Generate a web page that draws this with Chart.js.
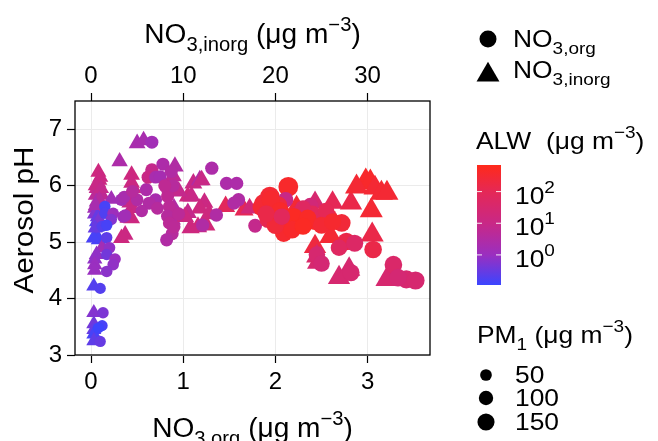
<!DOCTYPE html>
<html>
<head>
<meta charset="utf-8">
<script src="https://cdn.jsdelivr.net/npm/chart.js@4.4.0/dist/chart.umd.min.js"></script>
<style>
  html, body { margin: 0; padding: 0; background: #fff; }
  canvas { display: block; }
</style>
</head>
<body>
<canvas id="chart" width="658" height="441" style="width:658px;height:441px"></canvas>
<script>
// NO3,org points (bottom axis)
const orgX   = [0.15,0.15,0.24,0.22,0.12,0.17,0.17,0.20,0.17,0.26,0.24,0.17,0.10,0.13,0.12,0.08,0.10,
                0.33,0.36,0.35,0.37,0.60,0.70,0.63,0.66,0.62,0.78,0.70,0.66,0.75,0.83,0.83,0.85,0.83,0.85,0.89,0.87,0.88,0.82,0.90,
                0.50,0.45,0.80,0.72,0.95,0.55,
                1.31,1.47,1.58,1.60,1.55,1.36,1.21,1.78,
                2.14,1.94,1.87,2.11,1.98,2.03,2.09,2.15,2.23,2.43,2.58,2.72,2.77,2.69,2.86,3.06,2.45,2.50,2.82,3.28,3.42,3.52,3.33,2.38,2.25,2.40,2.00,1.92,2.30,2.55,
                1.85,1.95,2.05,2.20,2.35,2.50,2.62,2.00,2.18,2.30,1.90,2.07];
const orgPH  = [5.63,5.51,5.51,5.40,5.28,5.30,5.08,4.90,4.78,4.70,4.60,4.48,4.18,3.75,3.52,3.48,3.24,
                5.75,5.80,5.45,5.47,5.93,5.75,5.69,6.28,6.15,6.38,6.15,6.77,6.16,5.93,5.81,5.63,5.46,5.34,6.00,6.25,5.15,5.04,5.27,
                5.75,5.90,6.00,5.60,5.50,5.55,
                6.31,6.04,6.04,5.75,5.69,5.48,5.30,5.29,
                5.98,5.81,5.69,5.75,5.57,5.65,5.16,5.34,5.32,5.37,5.44,5.34,5.01,4.90,4.98,4.87,4.78,4.62,4.46,4.60,4.34,4.32,4.37,5.65,5.50,5.50,5.45,5.40,5.60,5.55,
                5.62,5.75,5.55,5.45,5.42,5.30,5.36,5.30,5.22,5.28,5.50,5.45];
const orgALW = [0.15,0.18,1.2,0.6,0.2,0.15,0.25,0.8,0.4,1.0,0.8,0.7,0.2,0.5,0.15,0.12,0.3,
                1.5,2,1.2,1.5,2.5,2,3,8,10,2.5,2,1.5,1.8,5,6,5,4,5,4,3,4,3,5,
                3,4,6,4,5,3,
                2.5,2.5,2.5,3,3,3,3,8,
                400,300,250,10,300,200,350,300,500,400,200,250,150,60,50,150,30,25,30,40,30,30,25,20,150,80,200,120,60,100,
                300,350,400,500,450,300,350,250,400,500,150,80];
const orgPM  = [45,45,50,45,40,45,45,50,45,50,48,48,40,45,40,38,40,
                65,65,60,65,75,75,75,80,80,75,70,75,70,75,75,75,75,75,75,75,75,75,75,
                70,70,75,70,75,65,
                80,80,80,80,80,80,80,90,
                200,190,170,120,180,170,160,170,170,160,150,160,160,140,150,160,140,140,150,160,170,170,160,120,150,140,160,150,130,140,
                170,180,170,160,160,150,150,160,160,150,150,140];

// NO3,inorg points (top axis)
const inorgX   = [0.8,1.0,0.8,0.6,0.5,1.2,0.6,0.4,0.4,0.6,0.7,0.6,0.8,0.25,1.2,0.6,0.4,0.4,0.4,0.3,0.3,0.3,0.3,0.3,0.3,
                  0.9,0.5,1.1,0.9,0.5,0.9,0.45,
                  2.2,3.1,3.3,3.7,4.4,4.4,4.4,4.4,4.4,5.0,5.7,4.0,4.6,4.2,
                  9.1,8.9,9.0,8.8,11.1,11.8,12.0,10.5,10.9,12.3,11.8,10.5,11.6,12.5,10.8,14.6,16.6,17.2,9.5,10.2,12.8,
                  22.3,24.3,26.2,28.2,29.8,30.3,28.8,30.8,31.5,32.1,30.4,30.5,26.0,24.3,24.6,24.5,26.9,28.0,32.1,25.0];
const inorgPH  = [6.24,6.15,6.05,5.95,5.83,5.83,5.71,5.60,5.50,5.36,5.45,5.12,5.04,5.07,4.90,4.78,4.70,4.60,4.50,4.22,3.75,3.55,3.45,3.37,3.25,
                  6.10,6.00,5.95,5.75,5.65,5.40,5.25,
                  5.76,6.43,5.07,5.13,6.19,6.05,5.81,5.60,5.42,6.75,6.80,5.43,5.95,5.70,
                  6.34,6.17,5.60,5.40,6.04,6.10,6.10,5.81,5.81,5.70,5.60,5.52,5.27,5.30,5.25,5.63,5.57,5.60,5.90,5.45,5.50,
                  5.62,5.70,5.70,5.69,6.08,6.06,5.98,5.96,5.87,5.87,5.56,5.13,5.10,4.92,4.64,4.75,4.37,4.52,4.34,5.40];
const inorgALW = [15,12,10,8,5,6,2,1.5,0.6,0.2,0.3,0.2,0.15,0.15,1.5,0.8,0.8,1.0,1.0,0.2,0.6,0.4,0.3,0.15,0.25,
                  12,10,8,4,2,0.5,0.3,
                  1.5,2.5,15,12,15,12,12,10,15,2,2,12,12,10,
                  3,6,3,3,10,3,10,15,10,12,15,8,20,20,15,80,100,20,8,12,15,
                  300,30,100,150,400,400,300,300,300,300,300,150,300,200,30,40,30,30,30,200];
const inorgPM  = [55,55,52,52,50,50,50,48,48,45,45,45,45,42,48,48,45,45,45,42,42,42,40,40,40,
                  55,52,50,50,48,45,42,
                  55,60,65,65,65,65,65,65,65,65,65,65,65,65,
                  75,75,75,75,80,80,80,80,80,80,80,80,85,85,85,95,95,85,80,80,85,
                  130,120,130,140,160,160,150,150,150,150,150,150,150,140,130,130,140,140,150,140];

const bottomTicks = [0, 1, 2, 3];
const topTicks = [0, 10, 20, 30];
const yTicks = [3, 4, 5, 6, 7];
const alwLogTicks = [0, 1, 2];
const pmBreaks = [50, 100, 150];

const FONT = '"Liberation Sans", Arial, Helvetica, sans-serif';
const ALW_LOG_MIN = -0.95, ALW_LOG_MAX = 2.84;
const colorStops = [
  [0.00, [59, 69, 255]],
  [0.25, [154, 47, 192]],
  [0.51, [200, 40, 135]],
  [0.77, [228, 40, 88]],
  [1.00, [255, 42, 26]]
];

function rampColor(t) {
  t = Math.max(0, Math.min(1, t));
  for (let i = 1; i < colorStops.length; i++) {
    if (t <= colorStops[i][0]) {
      const a = colorStops[i - 1], b = colorStops[i];
      const f = (t - a[0]) / (b[0] - a[0]);
      const c = a[1].map((v, k) => Math.round(v + (b[1][k] - v) * f));
      return "rgb(" + c.join(",") + ")";
    }
  }
  return "rgb(255,42,26)";
}
function alwColor(v) {
  return rampColor((Math.log10(v) - ALW_LOG_MIN) / (ALW_LOG_MAX - ALW_LOG_MIN));
}
function pmRadius(pm) {
  return 4.5 + 0.027 * pm;
}
const TRI = 1.555; // R-style triangle is bigger than the circle of same size

// rich text: parts = [[text, ''|'sub'|'sup'], ...]
function richWidth(ctx, parts, size) {
  let w = 0;
  parts.forEach(p => {
    ctx.font = (p[1] ? size * 0.72 : size) + "px " + FONT;
    w += ctx.measureText(p[0]).width;
  });
  return w;
}
function drawRich(ctx, parts, x, y, size, align, sx, rot) {
  ctx.save();
  ctx.translate(x, y);
  if (rot) ctx.rotate(rot);
  ctx.scale(sx || 1, 1);
  const w = richWidth(ctx, parts, size);
  let cx = align === "center" ? -w / 2 : 0;
  ctx.textAlign = "left";
  ctx.textBaseline = "alphabetic";
  ctx.fillStyle = "#000";
  parts.forEach(p => {
    const s = p[1] ? size * 0.72 : size;
    const dy = p[1] === "sub" ? size * 0.3 : (p[1] === "sup" ? -size * 0.45 : 0);
    ctx.font = s + "px " + FONT;
    ctx.fillText(p[0], cx, dy);
    cx += ctx.measureText(p[0]).width;
  });
  ctx.restore();
}
function triangle(ctx, x, y, r) {
  const side = 3 * r / Math.sqrt(3);
  const h = side * Math.sqrt(3) / 2;
  ctx.beginPath();
  ctx.moveTo(x - side / 2, y + h / 3);
  ctx.lineTo(x, y - 2 * h / 3);
  ctx.lineTo(x + side / 2, y + h / 3);
  ctx.closePath();
  ctx.fill();
}

const extras = {
  id: "extras",
  afterDraw(chart) {
    const ctx = chart.ctx;
    const a = chart.chartArea;
    ctx.save();
    // panel border
    ctx.strokeStyle = "#000";
    ctx.lineWidth = 1.3;
    ctx.strokeRect(a.left, a.top, a.right - a.left, a.bottom - a.top);

    // axis titles
    const unit = [[" (\u03bcg m", ""], ["\u22123", "sup"], [")", ""]];
    drawRich(ctx, [["NO", ""], ["3,inorg", "sub"]].concat(unit), (a.left + a.right) / 2, 43, 27, "center", 1.04);
    drawRich(ctx, [["NO", ""], ["3,org", "sub"]].concat(unit), (a.left + a.right) / 2, 437, 27, "center", 1.04);
    drawRich(ctx, [["Aerosol pH", ""]], 33, 220, 27, "center", 1.1, -Math.PI / 2);

    // shape legend
    ctx.fillStyle = "#000";
    ctx.beginPath();
    ctx.arc(488, 39, 8.5, 0, Math.PI * 2);
    ctx.fill();
    triangle(ctx, 488, 75, 8.5 * TRI);
    drawRich(ctx, [["NO", ""], ["3,org", "sub"]], 513, 47, 24, "left", 1.1);
    drawRich(ctx, [["NO", ""], ["3,inorg", "sub"]], 513, 78, 24, "left", 1.1);

    // ALW colour bar
    drawRich(ctx, [["ALW  (\u03bcg m", ""], ["\u22123", "sup"], [")", ""]], 476, 149, 24, "left", 1.1);
    const bx = 477, bw = 24, top = 165, bot = 285;
    const g = ctx.createLinearGradient(0, bot, 0, top);
    colorStops.forEach(s => g.addColorStop(s[0], "rgb(" + s[1].join(",") + ")"));
    ctx.fillStyle = g;
    ctx.fillRect(bx, top, bw, bot - top);
    ctx.strokeStyle = "rgba(255,255,255,0.9)";
    ctx.lineWidth = 1;
    alwLogTicks.forEach(lv => {
      const yy = bot - (lv - ALW_LOG_MIN) / (ALW_LOG_MAX - ALW_LOG_MIN) * (bot - top);
      ctx.beginPath();
      ctx.moveTo(bx, yy); ctx.lineTo(bx + 5, yy);
      ctx.moveTo(bx + bw - 5, yy); ctx.lineTo(bx + bw, yy);
      ctx.stroke();
      drawRich(ctx, [["10", ""], [String(lv), "sup"]], 515, yy + 12, 24, "left", 1.1);
    });

    // PM1 size legend
    drawRich(ctx, [["PM", ""], ["1", "sub"], [" (\u03bcg m", ""], ["\u22123", "sup"], [")", ""]], 477, 343, 24, "left", 1.1);
    const pmY = [375, 398, 422];
    pmBreaks.forEach((pm, i) => {
      ctx.fillStyle = "#000";
      ctx.beginPath();
      ctx.arc(486, pmY[i], pmRadius(pm), 0, Math.PI * 2);
      ctx.fill();
      drawRich(ctx, [[String(pm), ""]], 515, pmY[i] + 8, 24, "left", 1.1);
    });
    ctx.restore();
  }
};

const tickFont = { family: FONT, size: 24 };

new Chart(document.getElementById("chart"), {
  type: "scatter",
  data: {
    datasets: [
      {
        label: "NO3,org",
        xAxisID: "x",
        data: orgX.map((v, i) => ({ x: v, y: orgPH[i] })),
        pointStyle: "circle",
        pointRadius: orgPM.map(pmRadius),
        backgroundColor: orgALW.map(alwColor),
        borderWidth: 0
      },
      {
        label: "NO3,inorg",
        xAxisID: "x2",
        data: inorgX.map((v, i) => ({ x: v, y: inorgPH[i] })),
        pointStyle: "triangle",
        pointRadius: inorgPM.map(p => pmRadius(p) * TRI),
        backgroundColor: inorgALW.map(alwColor),
        borderWidth: 0
      }
    ]
  },
  options: {
    responsive: false,
    animation: false,
    devicePixelRatio: 1,
    layout: { padding: { left: 0, right: 228, top: 0, bottom: 0 } },
    plugins: { legend: { display: false }, tooltip: { enabled: false } },
    scales: {
      x: {
        type: "linear", position: "bottom", min: -0.174, max: 3.677,
        afterBuildTicks: s => { s.ticks = bottomTicks.map(v => ({ value: v })); },
        afterFit: s => { s.height = 86; },
        ticks: { font: tickFont, color: "#000", padding: 5 },
        grid: { color: "#EBEBEB", tickColor: "#000", tickLength: 8, tickWidth: 1.2 },
        border: { display: false }
      },
      x2: {
        type: "linear", position: "top", min: -1.74, max: 36.77,
        afterBuildTicks: s => { s.ticks = topTicks.map(v => ({ value: v })); },
        afterFit: s => { s.height = 101; },
        ticks: { font: tickFont, color: "#000", padding: 2 },
        grid: { drawOnChartArea: false, tickColor: "#000", tickLength: 8, tickWidth: 1.2 },
        border: { display: false }
      },
      y: {
        type: "linear", min: 3, max: 7.5,
        afterBuildTicks: s => { s.ticks = yTicks.map(v => ({ value: v })); },
        afterFit: s => { s.width = 75; },
        ticks: { font: tickFont, color: "#000", padding: 5 },
        grid: { color: "#EBEBEB", tickColor: "#000", tickLength: 8, tickWidth: 1.2 },
        border: { display: false }
      }
    }
  },
  plugins: [extras]
});
</script>
</body>
</html>
